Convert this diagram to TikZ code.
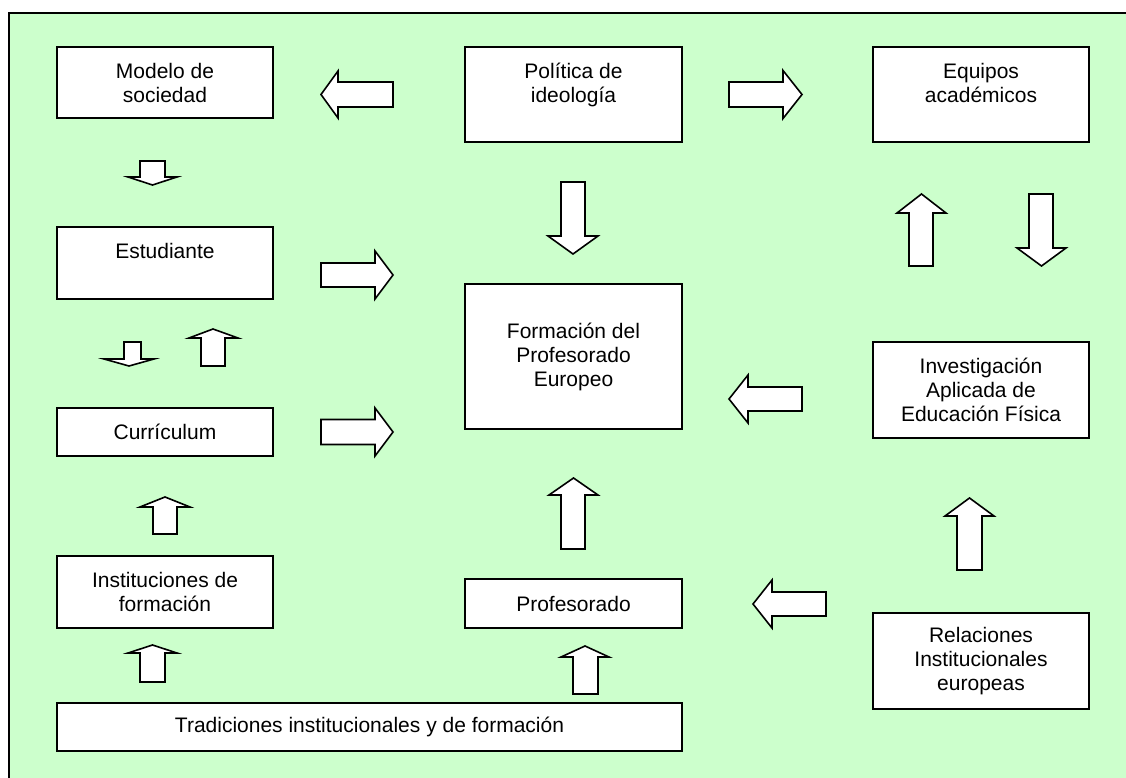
\documentclass[tikz,border=0pt]{standalone}
\usepackage{fontspec}
\setmainfont{Liberation Sans}
\definecolor{mintbg}{RGB}{204,255,204}
\tikzset{
  box/.style={draw=black, fill=white, line width=1.6pt, inner sep=0pt, align=center,
    font=\fontsize{21}{24}\selectfont},
  blockarrow/.style={draw=black, fill=white, line width=1.6pt, line join=miter},
}
\begin{document}
\begin{tikzpicture}[x=1pt,y=1pt,yscale=-1,xscale=1]
\useasboundingbox (0,0) rectangle (1126,778);
\clip (0,0) rectangle (1126,778);

%Shape: Frame
\fill [mintbg] (9,13) rectangle (1130,782);
\draw [line width=2.5pt] (9,782) -- (9,13) -- (1130,13);

% Text Node
\node [box, minimum width=216, minimum height=71] (modelo) at (165,82.5) {Modelo de\\sociedad};
% Text Node
\node [box, minimum width=217, minimum height=95] (politica) at (573.5,94.5) {Política de\\ideología\\\mbox{}};
% Text Node
\node [box, minimum width=216, minimum height=95] (equipos) at (981,94.5) {Equipos\\académicos\\\mbox{}};
% Text Node
\node [box, minimum width=216, minimum height=72] (estudiante) at (165,263) {Estudiante\\\mbox{}};
% Text Node
\node [box, minimum width=216, minimum height=48] (curriculum) at (165,432) {Currículum};
% Text Node
\node [box, minimum width=217, minimum height=145] (formacion) at (573.5,356.5) {Formación del\\Profesorado\\Europeo};
% Text Node
\node [box, minimum width=216, minimum height=96] (investigacion) at (981,390) {Investigación\\Aplicada de\\Educación Física};
% Text Node
\node [box, minimum width=216, minimum height=72] (instituciones) at (165,592) {Instituciones de\\formación};
% Text Node
\node [box, minimum width=217, minimum height=49] (profesorado) at (573.5,603.5) {Profesorado};
% Text Node
\node [box, minimum width=625, minimum height=48] (tradiciones) at (369.5,727) {Tradiciones institucionales y de formación};
% Text Node
\node [box, minimum width=216, minimum height=96] (relaciones) at (981,661) {Relaciones\\Institucionales\\europeas};

%Shape: Left Arrow
\draw [blockarrow] (393,82) -- (338,82) -- (338,71) -- (321,94.5) -- (338,118) -- (338,107) -- (393,107) -- cycle ;
%Shape: Right Arrow
\draw [blockarrow] (729,82) -- (783,82) -- (783,70.5) -- (802,94.5) -- (783,118.5) -- (783,107) -- (729,107) -- cycle ;
%Shape: Down Arrow
\draw [blockarrow] (561,182) -- (585,182) -- (585,236) -- (598,236) -- (573,254) -- (548,236) -- (561,236) -- cycle ;
%Shape: Down Arrow
\draw [blockarrow] (140,161) -- (165,161) -- (165,177) -- (177,177) -- (152.5,185) -- (128,177) -- (140,177) -- cycle ;
%Shape: Right Arrow
\draw [blockarrow] (321,263) -- (375,263) -- (375,251) -- (393,275) -- (375,299) -- (375,287) -- (321,287) -- cycle ;
%Shape: Down Arrow
\draw [blockarrow] (124,342) -- (141,342) -- (141,359) -- (154,359) -- (129,366) -- (104,359) -- (124,359) -- cycle ;
%Shape: Up Arrow
\draw [blockarrow] (201,366) -- (201,338) -- (189,338) -- (213,329) -- (238,338) -- (225,338) -- (225,366) -- cycle ;
%Shape: Right Arrow
\draw [blockarrow] (321,419.5) -- (375,419.5) -- (375,408) -- (393,432) -- (375,456) -- (375,444.5) -- (321,444.5) -- cycle ;
%Shape: Up Arrow
\draw [blockarrow] (153,534) -- (153,507) -- (140,507) -- (165,497) -- (190,507) -- (177,507) -- (177,534) -- cycle ;
%Shape: Up Arrow
\draw [blockarrow] (140,682) -- (140,653) -- (128,653) -- (152.5,645) -- (177,653) -- (165,653) -- (165,682) -- cycle ;
%Shape: Up Arrow
\draw [blockarrow] (561,549) -- (561,495) -- (549,495) -- (573.5,478) -- (598,495) -- (585,495) -- (585,549) -- cycle ;
%Shape: Up Arrow
\draw [blockarrow] (573,694) -- (573,657) -- (561,657) -- (585,646) -- (609,657) -- (598,657) -- (598,694) -- cycle ;
%Shape: Left Arrow
\draw [blockarrow] (826,592) -- (772,592) -- (772,580) -- (753,604) -- (772,628) -- (772,616) -- (826,616) -- cycle ;
%Shape: Left Arrow
\draw [blockarrow] (802,387) -- (748,387) -- (748,375) -- (729,399) -- (748,423) -- (748,411) -- (802,411) -- cycle ;
%Shape: Up Arrow
\draw [blockarrow] (957,570) -- (957,516) -- (945,516) -- (969.5,498) -- (994,516) -- (982,516) -- (982,570) -- cycle ;
%Shape: Up Arrow
\draw [blockarrow] (909,266) -- (909,213) -- (897,213) -- (921.5,194) -- (946,213) -- (933,213) -- (933,266) -- cycle ;
%Shape: Down Arrow
\draw [blockarrow] (1029,194) -- (1053,194) -- (1053,248) -- (1066,248) -- (1041.5,266) -- (1017,248) -- (1029,248) -- cycle ;

\end{tikzpicture}
\end{document}
